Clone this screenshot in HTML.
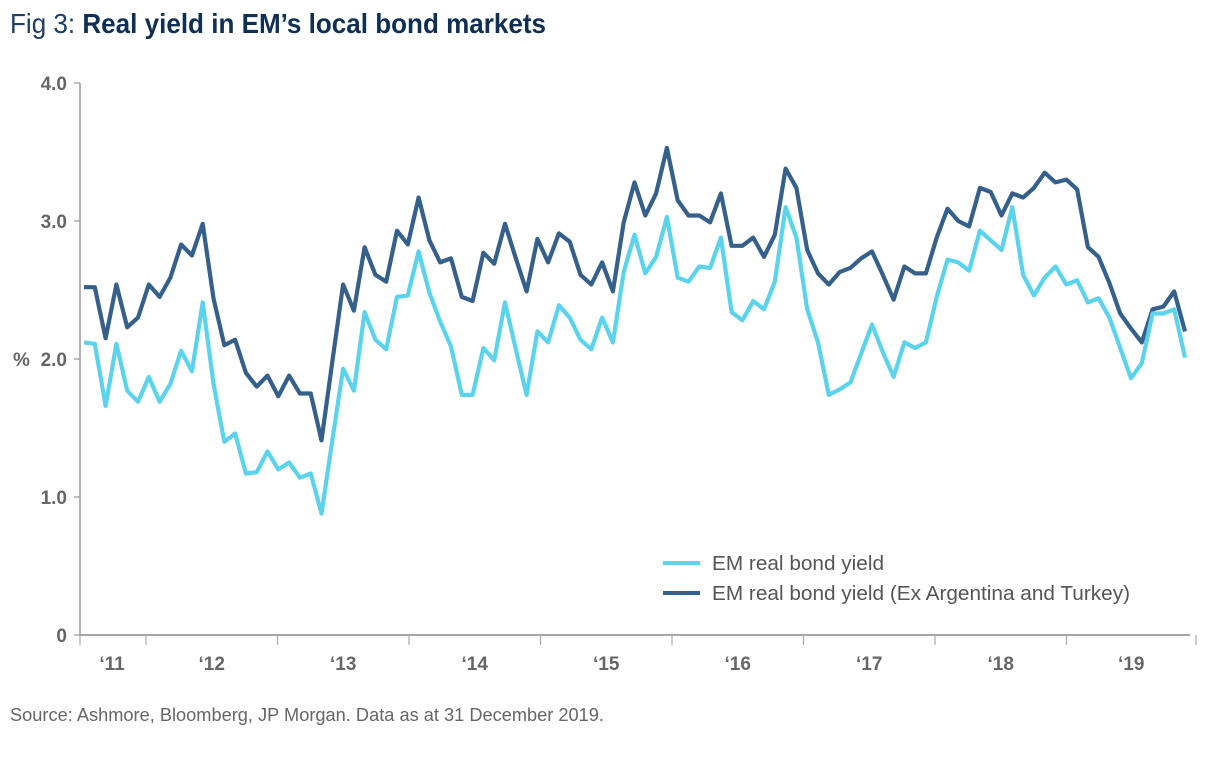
<!DOCTYPE html>
<html><head><meta charset="utf-8"><style>
body{margin:0;background:#fff;width:1216px;height:756px;overflow:hidden;font-family:"Liberation Sans Narrow","Liberation Sans",sans-serif}
</style></head><body>
<svg width="1216" height="756" xmlns="http://www.w3.org/2000/svg">
<text x="10" y="33" font-size="28" fill="#1d3f63" textLength="536" lengthAdjust="spacingAndGlyphs"><tspan fill="#1d3f63" font-weight="normal">Fig 3: </tspan><tspan font-weight="bold" fill="#0f2f55">Real yield in EM’s local bond markets</tspan></text>
<g id="axes"></g>
<g id="lines"></g>
<g>
<line x1="663" y1="563" x2="700" y2="563" stroke="#5bd3ec" stroke-width="4"/>
<text x="712" y="570" font-size="20" fill="#555" textLength="172" lengthAdjust="spacingAndGlyphs">EM real bond yield</text>
<line x1="663" y1="593" x2="700" y2="593" stroke="#36608c" stroke-width="4"/>
<text x="712" y="600" font-size="20" fill="#555" textLength="418" lengthAdjust="spacingAndGlyphs">EM real bond yield (Ex Argentina and Turkey)</text>
</g>
<text x="10" y="721" font-size="18" fill="#666" textLength="594" lengthAdjust="spacingAndGlyphs">Source: Ashmore, Bloomberg, JP Morgan. Data as at 31 December 2019.</text>
</svg>
<script>
const yTicks=[0,1,2,3,4];
const yTickLabels=["0","1.0","2.0","3.0","4.0"];
const yearLabels=["‘11","‘12","‘13","‘14","‘15","‘16","‘17","‘18","‘19"];
const emYield=[2.12,2.11,1.66,2.11,1.77,1.69,1.87,1.69,1.82,2.06,1.91,2.41,1.82,1.40,1.46,1.17,1.18,1.33,1.20,1.25,1.14,1.17,0.88,1.41,1.93,1.77,2.34,2.14,2.07,2.45,2.46,2.78,2.48,2.27,2.09,1.74,1.74,2.08,1.99,2.41,2.07,1.74,2.20,2.12,2.39,2.30,2.14,2.07,2.30,2.12,2.63,2.90,2.62,2.74,3.03,2.59,2.56,2.67,2.66,2.88,2.34,2.28,2.42,2.36,2.56,3.10,2.88,2.36,2.12,1.74,1.78,1.83,2.04,2.25,2.05,1.87,2.12,2.08,2.12,2.45,2.72,2.70,2.64,2.93,2.86,2.79,3.10,2.61,2.46,2.59,2.67,2.54,2.57,2.41,2.44,2.30,2.08,1.86,1.97,2.33,2.33,2.36,2.01];
const exYield=[2.52,2.52,2.15,2.54,2.23,2.30,2.54,2.45,2.59,2.83,2.75,2.98,2.44,2.10,2.14,1.90,1.80,1.88,1.73,1.88,1.75,1.75,1.41,1.98,2.54,2.35,2.81,2.61,2.56,2.93,2.83,3.17,2.86,2.70,2.73,2.45,2.42,2.77,2.69,2.98,2.73,2.49,2.87,2.70,2.91,2.85,2.61,2.54,2.70,2.49,2.99,3.28,3.04,3.20,3.53,3.15,3.04,3.04,2.99,3.20,2.82,2.82,2.88,2.74,2.90,3.38,3.24,2.79,2.62,2.54,2.63,2.66,2.73,2.78,2.61,2.43,2.67,2.62,2.62,2.88,3.09,3.00,2.96,3.24,3.21,3.04,3.20,3.17,3.24,3.35,3.28,3.30,3.23,2.81,2.74,2.55,2.33,2.22,2.12,2.36,2.38,2.49,2.20];
const NS="http://www.w3.org/2000/svg";
const y0=635, pxPerUnit=138;
function yScale(v){return y0-v*pxPerUnit;}
const xStart=84, xEnd=1185;
function xScale(i){return xStart+i*(xEnd-xStart)/(emYield.length-1);}
function mk(tag,attrs,parent){const e=document.createElementNS(NS,tag);for(const k in attrs)e.setAttribute(k,attrs[k]);parent.appendChild(e);return e;}
const axes=document.getElementById('axes');
let ax=mk('line',{x1:80,y1:83,x2:80,y2:636,stroke:'#999','stroke-width':1.5},axes);


let bx=mk('line',{x1:80,y1:635,x2:1190,y2:635,stroke:'#888','stroke-width':1.5},axes);


yTicks.forEach((v,i)=>{
  const t=mk('line',{x1:74,y1:yScale(v),x2:80,y2:yScale(v),stroke:'#999','stroke-width':1.2},axes);
  
  
  const l=mk('text',{x:67,y:yScale(v)+7,'text-anchor':'end','font-size':19,'font-weight':'bold',fill:'#666'},axes);
  l.textContent=yTickLabels[i];
  
  
});
const pc=mk('text',{x:13,y:366,'font-size':19,'font-weight':'bold',fill:'#666'},axes);
pc.textContent='%';


const tickXs=[80];
for(let k=1;k<=yearLabels.length;k++){tickXs.push(Math.min(80+66+(k-1)*131.5,1196));}
tickXs.forEach(x=>{
  const t=mk('line',{x1:x,y1:635,x2:x,y2:645,stroke:'#aaa','stroke-width':1.2},axes);
  
  
});
yearLabels.forEach((lab,k)=>{
  const cx=(tickXs[k]+tickXs[k+1])/2+ (k==0?-1:0);
  const l=mk('text',{x:cx,y:670,'text-anchor':'middle','font-size':19,'font-weight':'bold',fill:'#666'},axes);
  l.textContent=lab;
  
  
});
const lines=document.getElementById('lines');
function draw(arr,color,name){
  const d=arr.map((v,i)=>(i?'L':'M')+xScale(i).toFixed(1)+' '+yScale(v).toFixed(1)).join(' ');
  const p=mk('path',{d:d,fill:'none',stroke:color,'stroke-width':4.2,'stroke-linejoin':'round'},lines);
  
  
}
draw(exYield,'#36608c','line-em-ex-argentina-turkey');
draw(emYield,'#5bd3ec','line-em-real-bond-yield');
</script>
</body></html>
